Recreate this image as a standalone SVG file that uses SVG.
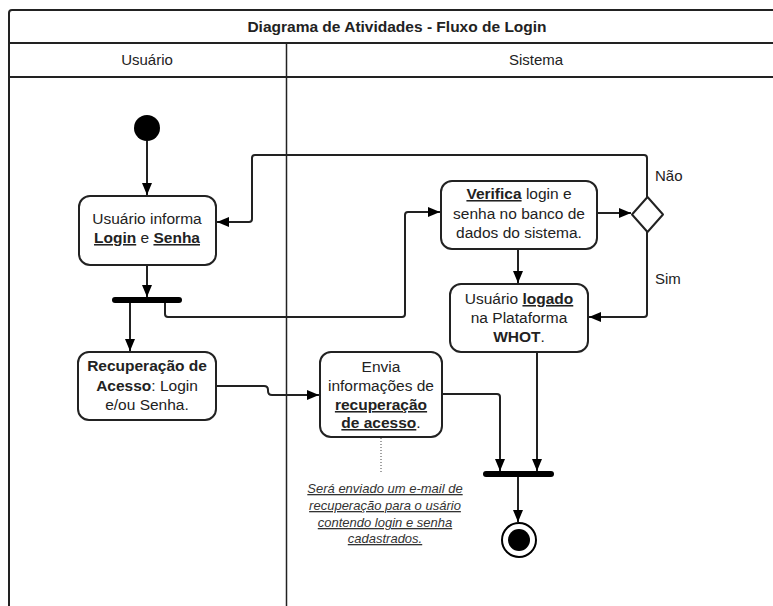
<svg xmlns="http://www.w3.org/2000/svg" width="773" height="606" viewBox="0 0 773 606">
  <style>
    text { font-family: "Liberation Sans", Arial, sans-serif; fill: #222; }
    .t { font-size: 15.5px; text-anchor: middle; }
    .h { font-size: 15px; text-anchor: middle; }
    .lbl { font-size: 15px; }
    .b { font-weight: bold; }
    .u { text-decoration: underline; }
    .frame { fill: none; stroke: #222; stroke-width: 2; }
    .lane { fill: none; stroke: #222; stroke-width: 1.5; }
    .node { fill: #fff; stroke: #222; stroke-width: 2; }
    .bar { stroke: #000; stroke-width: 6; stroke-linecap: round; }
    .edge { fill: none; stroke: #222; stroke-width: 2; stroke-linejoin: round; }
    .note { font-size: 13px; font-style: italic; text-anchor: middle; text-decoration: underline; fill: #333; }
  </style>
  <defs>
    <marker id="arrow" markerUnits="userSpaceOnUse" markerWidth="14" markerHeight="14" viewBox="0 0 14 14" refX="13" refY="7" orient="auto">
      <path d="M1,2 L13,7 L1,12 Z" fill="#000"/>
    </marker>
  </defs>

  <!-- swimlane frame -->
  <g id="frame">
    <rect x="0" y="0" width="773" height="606" fill="#fff"/>
    <path class="frame" d="M9,606 V13 Q9,10 12,10 H775"/>
    <line class="frame" x1="9" y1="43" x2="775" y2="43"/>
    <line class="frame" x1="9" y1="77" x2="775" y2="77"/>
    <line class="lane" x1="286.5" y1="43" x2="286.5" y2="606"/>
    <text class="t b" x="397" y="32">Diagrama de Atividades - Fluxo de Login</text>
    <text class="h" x="147" y="65">Usuário</text>
    <text class="h" x="536" y="65">Sistema</text>
  </g>

  <!-- connectors -->
  <g id="connectors">
    <line class="edge" x1="147" y1="141" x2="147" y2="195" marker-end="url(#arrow)"/>
    <line class="edge" x1="147" y1="265" x2="147" y2="297" marker-end="url(#arrow)"/>
    <line class="edge" x1="130" y1="302" x2="130" y2="351" marker-end="url(#arrow)"/>
    <path class="edge" d="M165,302 V314 Q165,317 168,317 H402 Q405,317 405,314 V215 Q405,212 408,212 H440" marker-end="url(#arrow)"/>
    <line class="edge" x1="597" y1="213" x2="631" y2="213" marker-end="url(#arrow)"/>
    <path class="edge" d="M647,197 V158 Q647,155 644,155 H255 Q252,155 252,158 V219 Q252,222 249,222 H217" marker-end="url(#arrow)"/>
    <path class="edge" d="M647,232 V314 Q647,317 644,317 H589" marker-end="url(#arrow)"/>
    <line class="edge" x1="518" y1="249" x2="518" y2="283" marker-end="url(#arrow)"/>
    <path class="edge" d="M216,386 H264 Q268,386 268,390 V391 Q268,395 272,395 H319" marker-end="url(#arrow)"/>
    <path class="edge" d="M442,394 H497 Q500,394 500,397 V471" marker-end="url(#arrow)"/>
    <line class="edge" x1="537" y1="352" x2="537" y2="471" marker-end="url(#arrow)"/>
    <line class="edge" x1="518" y1="477" x2="518" y2="522" marker-end="url(#arrow)"/>
    <line x1="381" y1="438" x2="381" y2="472" stroke="#444" stroke-width="1" stroke-dasharray="1,2"/>
  </g>

  <g id="start">
    <circle cx="147" cy="128" r="13" fill="#000"/>
  </g>

  <g id="informa">
    <rect class="node" x="79" y="196" width="137" height="69" rx="11"/>
    <text class="t" x="147" y="224">Usuário informa</text>
    <text class="t" x="147" y="243"><tspan class="b u">Login</tspan> e <tspan class="b u">Senha</tspan></text>
  </g>

  <g id="fork">
    <line class="bar" x1="115" y1="300" x2="179" y2="300"/>
  </g>

  <g id="recuperacao">
    <rect class="node" x="78" y="352" width="138" height="68" rx="11"/>
    <text class="t" x="147" y="371"><tspan class="b">Recuperação de</tspan></text>
    <text class="t" x="147" y="391"><tspan class="b">Acesso</tspan>: Login</text>
    <text class="t" x="147" y="410">e/ou Senha.</text>
  </g>

  <g id="verifica">
    <rect class="node" x="441" y="181" width="156" height="68" rx="11"/>
    <text class="t" x="519" y="199"><tspan class="b u">Verifica</tspan> login e</text>
    <text class="t" x="519" y="219">senha no banco de</text>
    <text class="t" x="519" y="238">dados do sistema.</text>
  </g>

  <g id="decisao">
    <path class="node" d="M647.5,197 L663,214.5 L647.5,232 L632,214.5 Z" stroke-linejoin="round"/>
    <text class="lbl" x="655" y="181">Não</text>
    <text class="lbl" x="655" y="284">Sim</text>
  </g>

  <g id="logado">
    <rect class="node" x="450" y="284" width="138" height="68" rx="11"/>
    <text class="t" x="519" y="304">Usuário <tspan class="b u">logado</tspan></text>
    <text class="t" x="519" y="323">na Plataforma</text>
    <text class="t" x="519" y="342"><tspan class="b">WHOT</tspan>.</text>
  </g>

  <g id="envia">
    <rect class="node" x="320" y="352" width="122" height="85" rx="11"/>
    <text class="t" x="381" y="372">Envia</text>
    <text class="t" x="381" y="391">informações de</text>
    <text class="t" x="381" y="410"><tspan class="b u">recuperação</tspan></text>
    <text class="t" x="381" y="428"><tspan class="b u">de acesso</tspan>.</text>
  </g>

  <g id="nota">
    <text class="note" x="385" y="493">Será enviado um e-mail de</text>
    <text class="note" x="385" y="510">recuperação para o usário</text>
    <text class="note" x="385" y="527">contendo login e senha</text>
    <text class="note" x="385" y="543">cadastrados.</text>
  </g>

  <g id="join">
    <line class="bar" x1="486" y1="474" x2="551" y2="474"/>
  </g>

  <g id="fim">
    <circle cx="519" cy="540" r="17" fill="#fff" stroke="#000" stroke-width="2"/>
    <circle cx="519" cy="540" r="11" fill="#000"/>
  </g>
</svg>
